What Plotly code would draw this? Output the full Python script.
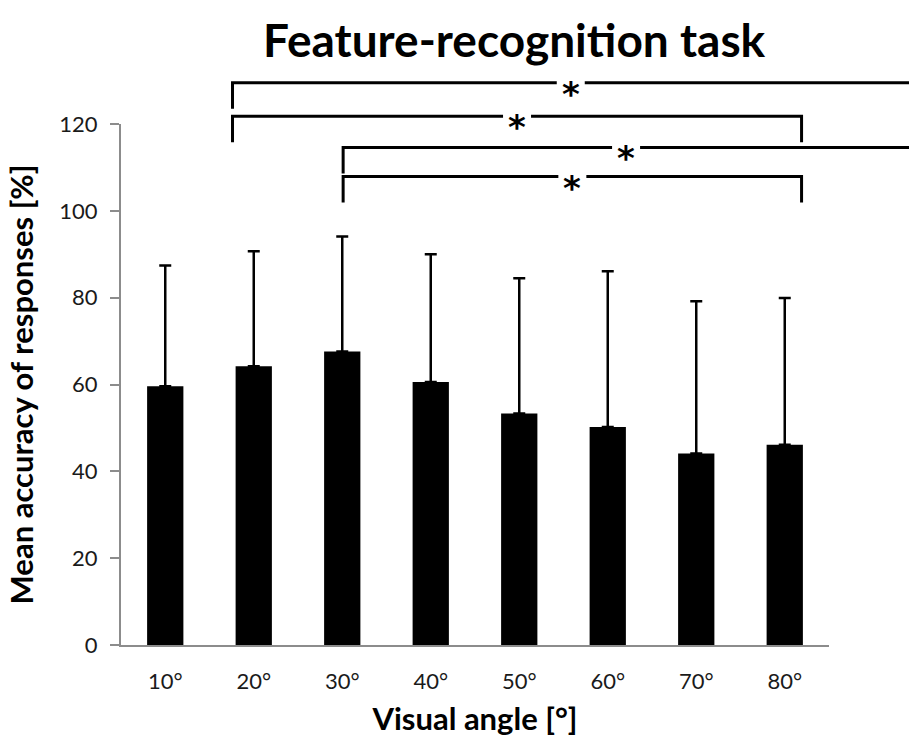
import plotly.graph_objects as go

# ---- data ----
categories = ["10°", "20°", "30°", "40°", "50°", "60°", "70°", "80°"]
mean_accuracy = [59.6, 64.2, 67.6, 60.6, 53.3, 50.2, 44.1, 46.1]
upper_error_end = [87.4, 90.7, 94.1, 90.0, 84.5, 86.1, 79.2, 79.9]
y_ticks = [0, 20, 40, 60, 80, 100, 120]
# significance comparisons: (from, to); None = continues beyond the chart
comparisons = [("20°", None), ("20°", "80°"), ("30°", None), ("30°", "80°")]
comparison_levels = [129.5, 121.8, 114.6, 107.9]
marker_text = "*"

# ---- geometry / style ----
W, H = 909, 746
ML, MR, MT, MB = 121, 80, 124, 101
XMIN, XMAX = -0.5, len(categories) - 0.5
YMAX = 120
FONT = "Lato"
plot_w = W - ML - MR
plot_h = H - MT - MB

xpos = list(range(len(categories)))
err_plus = [u - m for u, m in zip(upper_error_end, mean_accuracy)]

fig = go.Figure()
fig.add_trace(go.Bar(
    x=xpos, y=mean_accuracy, width=0.41,
    marker=dict(color="black", line=dict(width=0)),
    error_y=dict(type="data", symmetric=False, array=err_plus,
                 arrayminus=[0] * len(categories),
                 color="black", thickness=2.5, width=6),
    showlegend=False,
))


def xd(v):
    return (v - XMIN) / (XMAX - XMIN)


def yd(v):
    return v / YMAX


right_edge_dom = (W - ML) / plot_w  # figure right edge in x-domain units
right_edge_data = XMIN + right_edge_dom * (XMAX - XMIN)

left_offsets = {"20°": -0.24, "30°": 0.01}
right_offset = 0.19
drop = 6.0
gap_half_w = 14 / plot_w
gap_half_h = 4 / plot_h

shapes = []
annotations = []
for (a, b), lvl in zip(comparisons, comparison_levels):
    xl = categories.index(a) + left_offsets.get(a, 0)
    if b is None:
        xr = right_edge_data
        pts = [(xl, lvl - drop), (xl, lvl), (xr, lvl)]
    else:
        xr = categories.index(b) + right_offset
        pts = [(xl, lvl - drop), (xl, lvl), (xr, lvl), (xr, lvl - drop)]
    path = "M " + " L ".join(f"{xd(px):.5f},{yd(py):.5f}" for px, py in pts)
    shapes.append(dict(type="path", path=path, xref="x domain", yref="y domain",
                       line=dict(color="black", width=3), layer="above"))
    xm = xd((xl + xr) / 2)
    shapes.append(dict(type="rect", xref="x domain", yref="y domain",
                       x0=xm - gap_half_w, x1=xm + gap_half_w,
                       y0=yd(lvl) - gap_half_h, y1=yd(lvl) + gap_half_h,
                       fillcolor="white", line=dict(width=0), layer="above"))
    annotations.append(dict(
        x=xm, y=yd(lvl), xref="x domain", yref="y domain",
        text=f"<b>{marker_text}</b>",
        showarrow=False, font=dict(family="DejaVu Sans", size=34, color="black"),
        xanchor="center", yanchor="middle", yshift=-11))

# title
annotations.append(dict(
    x=(514 - ML) / plot_w, y=1 + (MT - 40) / plot_h, xref="paper", yref="paper",
    text="<b>Feature-recognition task</b>", showarrow=False,
    xanchor="center", yanchor="middle",
    font=dict(family=FONT, size=46, color="black")))

fig.update_layout(
    width=W, height=H,
    margin=dict(l=ML, r=MR, t=MT, b=MB, autoexpand=False),
    paper_bgcolor="white", plot_bgcolor="white",
    shapes=shapes, annotations=annotations,
    bargap=0.59,
    xaxis=dict(
        range=[XMIN, XMAX], tickmode="array", tickvals=xpos, ticktext=categories,
        showgrid=False, zeroline=False, showline=True, linecolor="#8c8c8c",
        linewidth=2, ticks="", ticklabelstandoff=16,
        tickfont=dict(family=FONT, size=22, color="#1a1a1a"),
        title=dict(text="<b>Visual angle [°]</b>", standoff=15,
                   font=dict(family=FONT, size=31, color="black")),
    ),
    yaxis=dict(
        range=[0, YMAX], tickmode="array", tickvals=y_ticks,
        showgrid=False, zeroline=False, showline=True, linecolor="#8c8c8c",
        linewidth=2, ticks="outside", ticklen=9, tickcolor="#8c8c8c",
        tickwidth=2, ticklabelstandoff=8,
        tickfont=dict(family=FONT, size=22, color="#1a1a1a"),
        title=dict(text="<b>Mean accuracy of responses [%]</b>", standoff=16,
                   font=dict(family=FONT, size=31, color="black")),
    ),
)

fig.write_html("out.html", config={"displayModeBar": False},
               post_script="document.body.style.margin='0px';")
